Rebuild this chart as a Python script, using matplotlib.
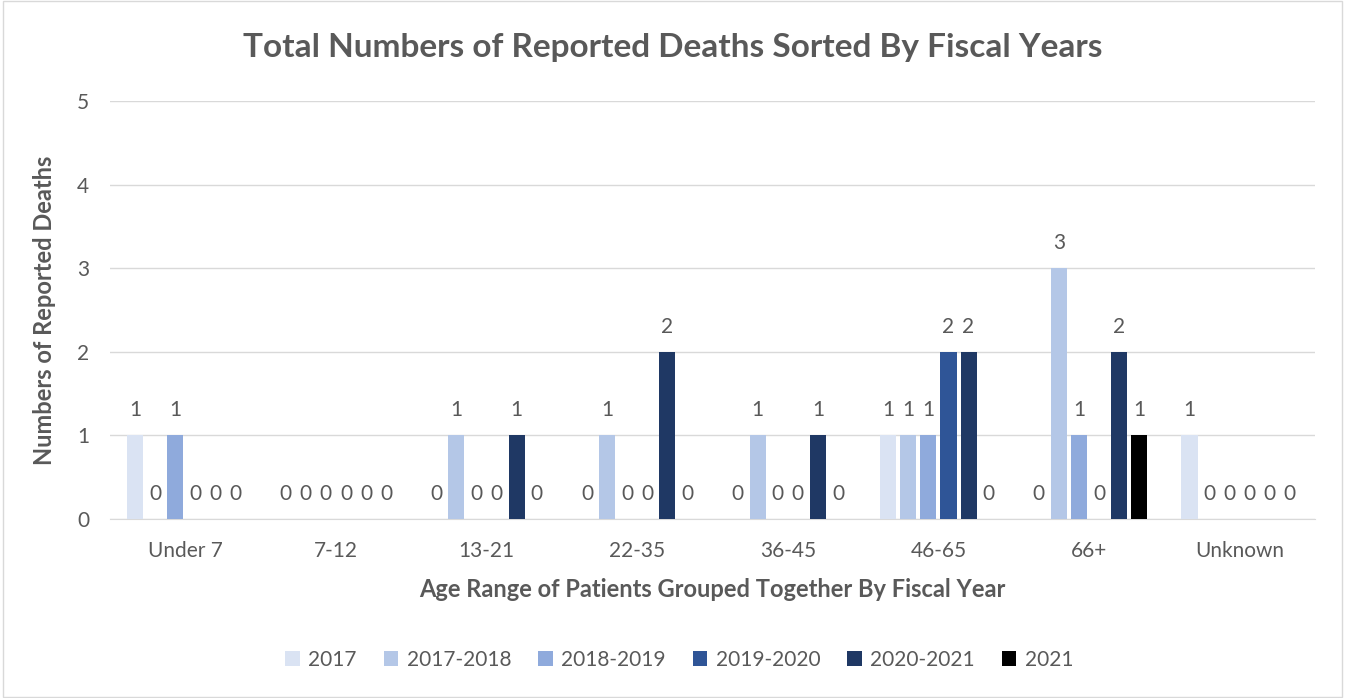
import numpy as np
import matplotlib.pyplot as plt

categories = ["Under 7", "7-12", "13-21", "22-35", "36-45", "46-65", "66+", "Unknown"]
series = ["2017", "2017-2018", "2018-2019", "2019-2020", "2020-2021", "2021"]
values = {
    "2017":      [1, 0, 0, 0, 0, 1, 0, 1],
    "2017-2018": [0, 0, 1, 1, 1, 1, 3, 0],
    "2018-2019": [1, 0, 0, 0, 0, 1, 1, 0],
    "2019-2020": [0, 0, 0, 0, 0, 2, 0, 0],
    "2020-2021": [0, 0, 1, 2, 1, 2, 2, 0],
    "2021":      [0, 0, 0, 0, 0, 0, 1, 0],
}
colors = ["#DAE3F3", "#B4C7E7", "#8FAADC", "#2F5597", "#1F3864", "#000000"]

plt.rcParams['font.family'] = ['Lato', 'DejaVu Sans']
text_col = "#595959"

fig = plt.figure(figsize=(13.45, 6.98), dpi=100)
ax = fig.add_axes([110 / 1345, 1 - 519 / 698, 1205 / 1345, 418 / 698])

x = np.arange(len(categories))
slot = 0.8 / len(series)
for i, s in enumerate(series):
    pos = x - 0.4 + slot * (i + 0.5)
    ax.bar(pos, values[s], width=slot * 0.8, color=colors[i], label=s, zorder=3)
    for xp, v in zip(pos, values[s]):
        ax.annotate(str(v), (xp, v), xytext=(0, 18), textcoords="offset points",
                    ha="center", va="center", fontsize=15, color=text_col)

ax.set_xlim(-0.5, len(categories) - 0.5)
ax.set_ylim(0, 5)
ax.set_yticks(range(6))
ax.set_xticks(x)
ax.set_xticklabels(categories)
ax.tick_params(axis="both", length=0, labelsize=15, labelcolor=text_col)
ax.tick_params(axis="x", pad=16)
ax.tick_params(axis="y", pad=15)
ax.grid(axis="y", color="#D9D9D9", linewidth=1, zorder=0)
for sp in ["top", "right", "left"]:
    ax.spines[sp].set_visible(False)
ax.spines["bottom"].set_color("#D9D9D9")

# title is centred on the whole chart, not the plot area
fig.text(0.5, 1 - 47 / 698, "Total Numbers of Reported Deaths Sorted By Fiscal Years",
         fontsize=24, fontweight="bold", color=text_col, ha="center", va="center")
ax.set_xlabel("Age Range of Patients Grouped Together By Fiscal Year",
              fontsize=17, fontweight="bold", color=text_col, labelpad=12)
ax.set_ylabel("Numbers of Reported Deaths", fontsize=17, fontweight="bold",
              color=text_col, labelpad=15)

fig.legend(loc="center", bbox_to_anchor=(0.505, 1 - 660 / 698), ncol=6,
           frameon=False, fontsize=15, handlelength=0.7, handleheight=0.7,
           handletextpad=0.4, columnspacing=1.3, labelcolor=text_col)

fig.patches.append(plt.Rectangle((0.002, 0.002), 0.996, 0.996, transform=fig.transFigure,
                                 fill=False, edgecolor="#D9D9D9", linewidth=1))

fig.savefig("out.png", dpi=100)
